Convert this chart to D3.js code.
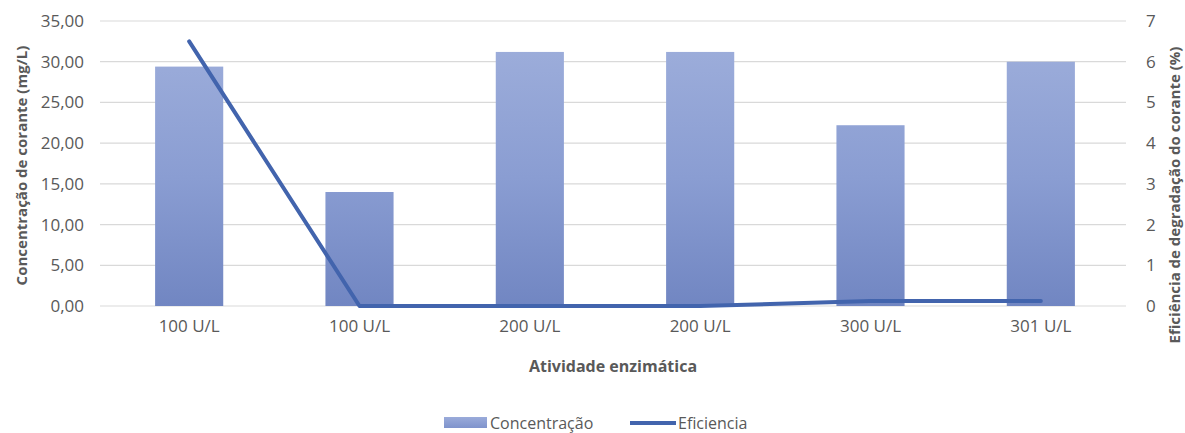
<!DOCTYPE html>
<html>
<head>
<meta charset="utf-8">
<script src="https://cdn.jsdelivr.net/npm/d3@7"></script>
<style>
  html, body { margin: 0; padding: 0; background: #fff; }
  svg text { font-family: "Open Sans", "DejaVu Sans", sans-serif; }
</style>
</head>
<body>
<svg id="chart" width="1185" height="433"></svg>
<script>
// Enzyme activity groups (x categories)
const categories = ["100 U/L", "100 U/L", "200 U/L", "200 U/L", "300 U/L", "301 U/L"];
// Dye concentration (mg/L) — bars, left axis
const concentracao = [29.4, 14.0, 31.2, 31.2, 22.2, 30.0];
// Degradation efficiency (%) — line, right axis
const eficiencia = [6.5, 0, 0, 0, 0.12, 0.12];
// Tick values
const leftTicks = [0, 5, 10, 15, 20, 25, 30, 35];
const rightTicks = [0, 1, 2, 3, 4, 5, 6, 7];

const svg = d3.select("#chart");
const W = 1185, H = 433;
const x0 = 100, x1 = 1126;
const y0 = 306, y1 = 21;

const x = d3.scaleBand().domain(d3.range(categories.length)).range([x0 + 4, x1]).paddingInner(0.6).paddingOuter(0.3);
const yL = d3.scaleLinear().domain([0, 35]).range([y0, y1]);
const yR = d3.scaleLinear().domain([0, 7]).range([y0, y1]);

const grey = "#595959";

// Gradient for bars
const defs = svg.append("defs");
const grad = defs.append("linearGradient").attr("id", "barGrad")
  .attr("gradientUnits", "userSpaceOnUse").attr("x1", 0).attr("x2", 0).attr("y1", y1).attr("y2", y0);
grad.append("stop").attr("offset", "0%").attr("stop-color", "#a0b0dc");
grad.append("stop").attr("offset", "55%").attr("stop-color", "#8a9dd2");
grad.append("stop").attr("offset", "100%").attr("stop-color", "#7186c2");

// Gridlines
svg.append("g").selectAll("line").data(leftTicks).join("line")
  .attr("x1", x0).attr("x2", x1)
  .attr("y1", d => yL(d)).attr("y2", d => yL(d))
  .attr("stroke", "#d9d9d9").attr("stroke-width", 1.2);

// Left axis
const axL = svg.append("g").attr("transform", `translate(${x0},0)`)
  .call(d3.axisLeft(yL).tickValues(leftTicks).tickSize(0).tickPadding(16)
    .tickFormat(d => d3.format(".2f")(d).replace(".", ",")));
axL.select(".domain").remove();
axL.selectAll("text").attr("fill", grey).style("font-size", "17px");

// Right axis
const axR = svg.append("g").attr("transform", `translate(${x1},0)`)
  .call(d3.axisRight(yR).tickValues(rightTicks).tickSize(0).tickPadding(20).tickFormat(d3.format("d")));
axR.select(".domain").remove();
axR.selectAll("text").attr("fill", grey).style("font-size", "17px");

// Category axis
const axB = svg.append("g").attr("transform", `translate(0,${y0})`)
  .call(d3.axisBottom(x).tickSize(0).tickPadding(14).tickFormat(i => categories[i]));
axB.select(".domain").remove();
axB.selectAll("text").attr("fill", grey).style("font-size", "17px");

// Bars
svg.append("g").selectAll("rect").data(concentracao).join("rect")
  .attr("x", (d, i) => x(i))
  .attr("width", x.bandwidth())
  .attr("y", d => yL(d))
  .attr("height", d => yL(0) - yL(d))
  .attr("fill", "url(#barGrad)");

// Efficiency line
const line = d3.line().x((d, i) => x(i) + x.bandwidth() / 2).y(d => yR(d));
svg.append("path").datum(eficiencia)
  .attr("d", line)
  .attr("fill", "none")
  .attr("stroke", "#4264ad")
  .attr("stroke-width", 4)
  .attr("stroke-linecap", "round")
  .attr("stroke-linejoin", "round");

// Axis titles
svg.append("text")
  .attr("transform", `translate(27,${(y0 + y1) / 2 + 2}) rotate(-90)`)
  .attr("text-anchor", "middle")
  .attr("fill", grey).style("font-size", "15px").style("font-weight", "bold")
  .text("Concentração de corante  (mg/L)");

svg.append("text")
  .attr("transform", `translate(1180,195) rotate(-90)`)
  .attr("text-anchor", "middle")
  .attr("fill", grey).style("font-size", "15px").style("font-weight", "bold")
  .text("Eficiência de degradação do corante  (%)");

svg.append("text")
  .attr("x", (x0 + x1) / 2).attr("y", 372)
  .attr("text-anchor", "middle")
  .attr("fill", grey).style("font-size", "16px").style("font-weight", "bold")
  .text("Atividade enzimática");

// Legend
const lgGrad = defs.append("linearGradient").attr("id", "legGrad").attr("x1", 0).attr("y1", 0).attr("x2", 0).attr("y2", 1);
lgGrad.append("stop").attr("offset", "0%").attr("stop-color", "#9aabda");
lgGrad.append("stop").attr("offset", "100%").attr("stop-color", "#7f93cc");
const lg = svg.append("g");
lg.append("rect").attr("x", 444).attr("y", 417).attr("width", 43).attr("height", 11).attr("fill", "url(#legGrad)");
lg.append("text").attr("x", 490).attr("y", 429).attr("fill", grey).style("font-size", "16px").text("Concentração");
lg.append("line").attr("x1", 630).attr("x2", 676).attr("y1", 423).attr("y2", 423)
  .attr("stroke", "#4264ad").attr("stroke-width", 4);
lg.append("text").attr("x", 678).attr("y", 429).attr("fill", grey).style("font-size", "16px").text("Eficiencia");
</script>
</body>
</html>
